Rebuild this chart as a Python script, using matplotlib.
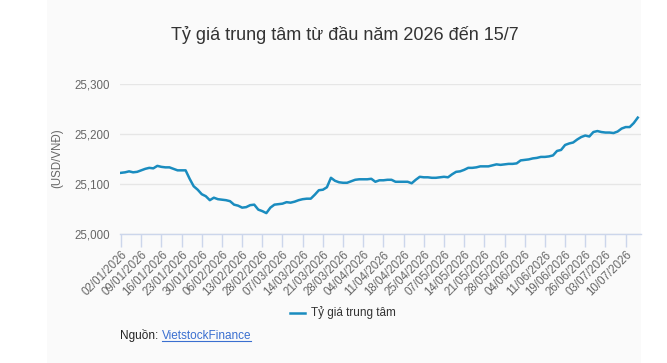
import matplotlib
matplotlib.use("Agg")
import matplotlib.pyplot as plt
from matplotlib.lines import Line2D
from matplotlib.patches import Rectangle

plt.rcParams['font.family'] = ['Liberation Sans', 'DejaVu Sans']

title = "Tỷ giá trung tâm từ đầu năm 2026 đến 15/7"
series_name = "Tỷ giá trung tâm"
y_label = "(USD/VNĐ)"

values = [
    25122, 25123, 25125, 25123, 25124, 25127, 25130, 25132, 25131, 25136,
    25134, 25133, 25133, 25130, 25127, 25127, 25127, 25110, 25095, 25088,
    25079, 25075, 25067, 25072, 25069, 25068, 25067, 25065, 25058, 25056,
    25052, 25053, 25057, 25058, 25048, 25045, 25041, 25052, 25058, 25059,
    25060, 25063, 25062, 25064, 25067, 25069, 25070, 25070, 25078, 25087,
    25088, 25093, 25112, 25106, 25103, 25102, 25102, 25105, 25108, 25109,
    25109, 25109, 25110, 25104, 25107, 25107, 25108, 25108, 25104, 25104,
    25104, 25104, 25101, 25108, 25114, 25113, 25113, 25112, 25112, 25113,
    25114, 25113, 25119, 25124, 25125, 25128, 25132, 25132, 25133, 25135,
    25135, 25135, 25137, 25139, 25138, 25139, 25140, 25140, 25141, 25147,
    25148, 25149, 25151, 25152, 25154, 25154, 25155, 25157, 25166, 25168,
    25178, 25181, 25183, 25189, 25194, 25197, 25195, 25204, 25206, 25204,
    25203, 25203, 25202, 25205, 25211, 25214, 25214, 25222, 25233,
]

tick_labels = [
    "02/01/2026", "09/01/2026", "16/01/2026", "23/01/2026", "30/01/2026",
    "06/02/2026", "13/02/2026", "28/02/2026", "07/03/2026", "14/03/2026",
    "21/03/2026", "28/03/2026", "04/04/2026", "11/04/2026", "18/04/2026",
    "25/04/2026", "07/05/2026", "14/05/2026", "21/05/2026", "28/05/2026",
    "04/06/2026", "11/06/2026", "19/06/2026", "26/06/2026", "03/07/2026",
    "10/07/2026",
]
tick_step = 5
y_ticks = [25000, 25100, 25200, 25300]

W, H = 667, 363
fig = plt.figure(figsize=(W / 100, H / 100), dpi=100, facecolor="white")
fig.patches.append(Rectangle((47 / W, 0), (641 - 47) / W, 1, transform=fig.transFigure,
                             facecolor="#fafafa", edgecolor="none", zorder=-5))

left, right = 120 / W, 641 / W
bottom, top = (H - 233.5) / H, (H - 84.3) / H
ax = fig.add_axes([left, bottom, right - left, top - bottom])
ax.set_zorder(2)
ax.set_facecolor("none")

x = list(range(len(values)))
ax.plot(x, values, color="#1a8cbf", lw=1.8, solid_joinstyle="round", zorder=3)

ax.set_xlim(-0.25, len(values) - 0.2)
ax.set_ylim(25000, 25300)
ax.set_yticks(y_ticks)
ax.set_yticklabels([f"{v:,}" for v in y_ticks])
ax.yaxis.grid(True, color="#e6e6e6", lw=1)
ax.set_axisbelow(True)

ax.set_xticks(list(range(0, len(tick_labels) * tick_step, tick_step)))
ax.set_xticklabels(tick_labels, rotation=45, ha="right", rotation_mode="anchor")

for s in ["top", "right", "left"]:
    ax.spines[s].set_visible(False)
ax.spines["bottom"].set_color("#ccd6eb")
ax.spines["bottom"].set_linewidth(1)

ax.tick_params(axis="x", colors="#ccd6eb", length=9, width=1, labelcolor="#666666",
               labelsize=8.3, pad=2)
ax.tick_params(axis="y", length=0, labelcolor="#666666", labelsize=8.3, pad=7)

fig.text(57 / W, 1 - 158 / H, y_label, rotation=90, ha="center", va="center",
         color="#666666", fontsize=8.3)

fig.text(345 / W, 1 - 35 / H, title, ha="center", va="center", color="#333333", fontsize=13)

# legend
fig.add_artist(Line2D([290 / W, 305 / W], [1 - 313 / H, 1 - 313 / H], color="#1a8cbf",
                      lw=1.8, transform=fig.transFigure))
fig.text(311 / W, 1 - 313 / H, series_name, ha="left", va="center", color="#333333", fontsize=8.5)

# source
t1 = fig.text(120 / W, 1 - 336 / H, "Nguồn: ", ha="left", va="center", color="#222222", fontsize=8.5)
fig.canvas.draw()
r = fig.canvas.get_renderer()
bb = t1.get_window_extent(r)
t2 = fig.text(bb.x1 / W, 1 - 336 / H, "VietstockFinance", ha="left", va="center",
              color="#3a6fd0", fontsize=8.5)
bb2 = t2.get_window_extent(r)
uy = (bb2.y0 + 1) / H
fig.add_artist(Line2D([bb2.x0 / W, bb2.x1 / W], [uy, uy], color="#3a6fd0", lw=0.8,
                      transform=fig.transFigure))

fig.savefig("out.png", dpi=100, facecolor="white")
